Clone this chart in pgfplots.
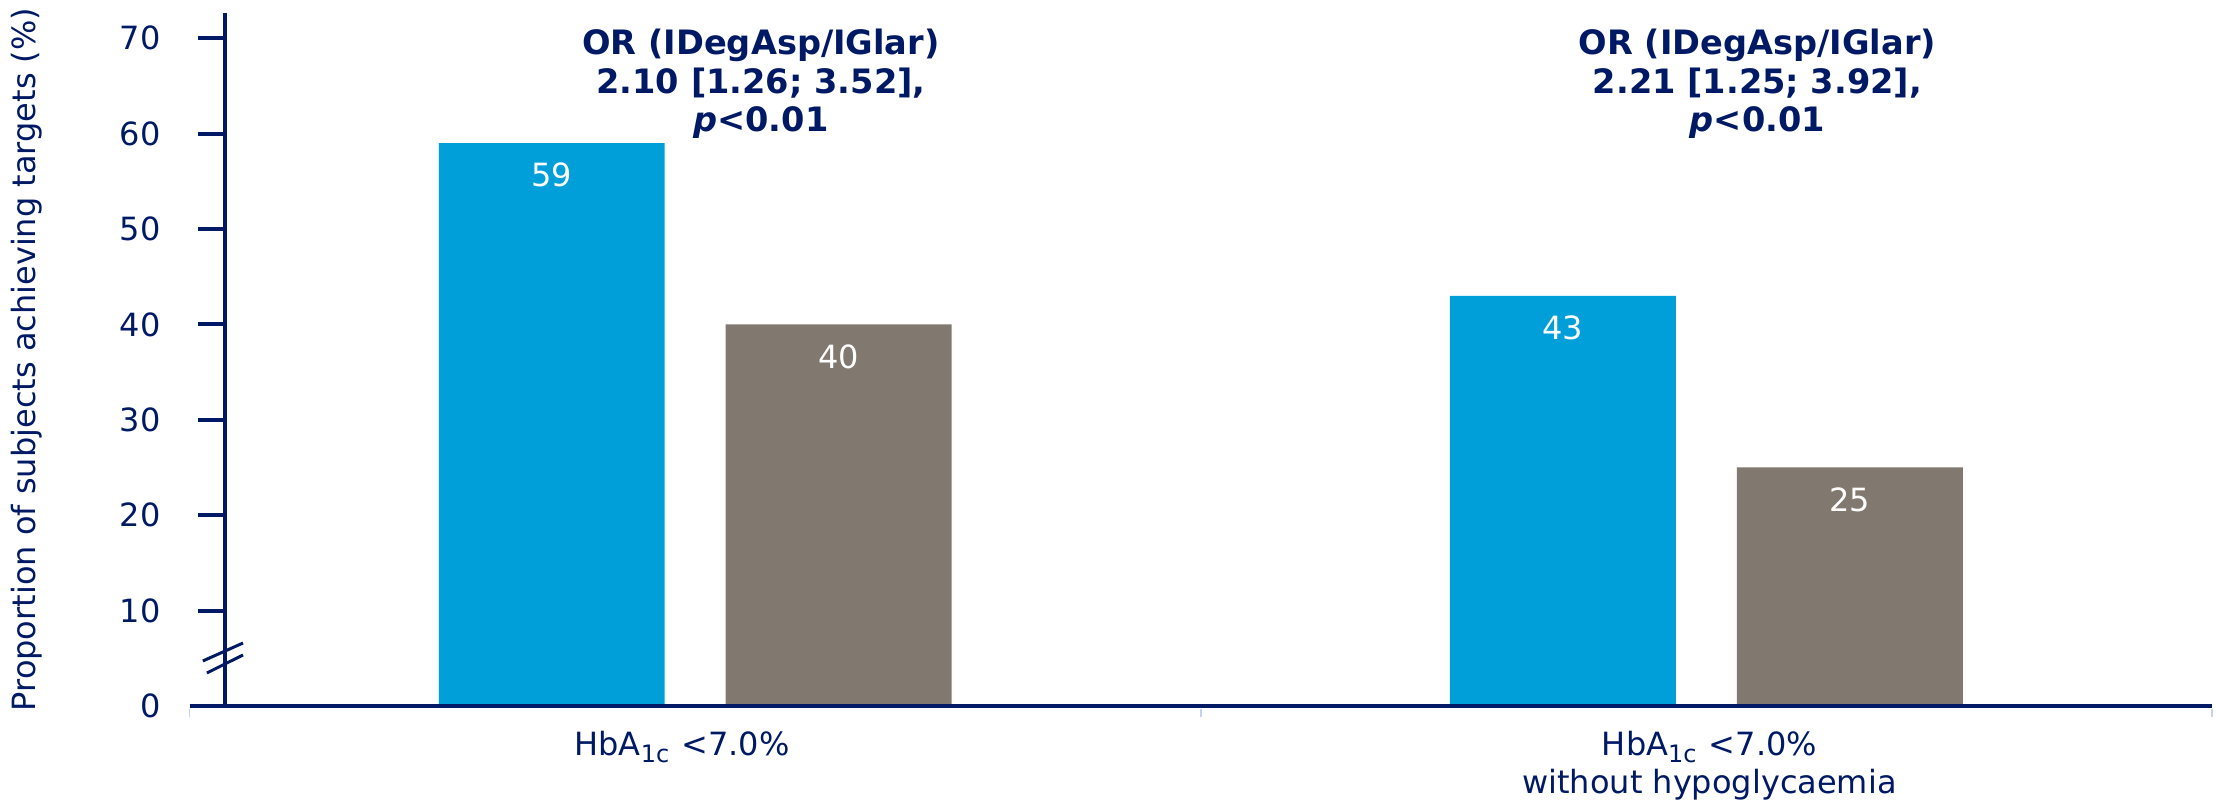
\documentclass[border=0pt]{standalone}
\usepackage{fontspec}
\setmainfont{DejaVu Sans}
\usepackage{pgfplots}
\pgfplotsset{compat=1.18}
\definecolor{navy}{HTML}{001965}
\definecolor{nnblue}{HTML}{009FDA}
\definecolor{nngrey}{HTML}{817870}
\definecolor{sepc}{HTML}{C5D3F2}
\newcommand\lbl{\fontsize{8}{9.5}\selectfont}
\begin{document}
\begin{tikzpicture}
\useasboundingbox (-56.25pt,-24pt) rectangle (497.75pt,176.5pt);
\begin{axis}[
  at={(0,0)}, anchor=south west,
  scale only axis, width=496.75pt, height=173.25pt,
  xmin=-0.465, xmax=1.5, ymin=0, ymax=72.64,
  axis lines*=left,
  axis line style={navy, line width=1pt},
  axis on top, clip=false,
  /pgf/number format/assume math mode=true,
  ytick={0,10,...,70},
  ytick style={navy, line width=1pt},
  tick align=outside,
  major tick length=6.75pt,
  xtick={-0.013,1.003},
  xticklabels={{HbA\textsubscript{1c} <7.0\%}, {HbA\textsubscript{1c} <7.0\%\\without hypoglycaemia}},
  xtick style={draw=none},
  ticklabel style={font=\lbl, text=navy},
  yticklabel style={xshift=-5.85pt},
  xticklabel style={align=center, anchor=north, yshift=3.9pt},
  ylabel={Proportion of subjects achieving targets (\%)},
  ylabel style={at={(axis description cs:-0.0996,0.5)}, anchor=center, font=\lbl, text=navy},
]
\addplot[ybar, draw=none, fill=nnblue, bar width=0.2234, bar shift=-0.1419]
  coordinates {(0,59) (1,43)};
\addplot[ybar, draw=none, fill=nngrey, bar width=0.2234, bar shift=0.1419]
  coordinates {(0,40) (1,25)};
% value labels (bar centres at group position -/+ bar shift)
\addplot[draw=none, forget plot, nodes near coords,
  every node near coord/.style={anchor=north, yshift=-1.5pt, text=white, font=\lbl}]
  coordinates {(-0.1419,59) (0.8581,43) (0.1419,40) (1.1419,25)};
% x axis extension and category separators
\draw[navy, line width=1pt] (axis cs:-0.5,0) -- (axis cs:-0.465,0);
\draw[sepc, line width=0.4pt] (axis cs:-0.5,-0.3) -- (axis cs:-0.5,-1.2);
\draw[sepc, line width=0.4pt] (axis cs:0.5,-0.3) -- (axis cs:0.5,-1.2);
\draw[sepc, line width=0.4pt] (axis cs:1.5,-0.3) -- (axis cs:1.5,-1.2);
% axis break
\fill[white] (axis cs:-0.475,4.09) rectangle (axis cs:-0.455,6.18);
\draw[navy, line width=0.75pt] (axis cs:-0.4869,4.72) -- (axis cs:-0.4472,6.60);
\draw[navy, line width=0.75pt] (axis cs:-0.4829,3.46) -- (axis cs:-0.4472,5.35);
% OR annotations
\node[align=center, font=\fontsize{8.4}{9.6}\selectfont\bfseries, text=navy, anchor=north, inner sep=0pt]
  at (axis cs:0.065,71.0) {OR (IDegAsp/IGlar)\\2.10 [1.26; 3.52],\\\textit{p}<0.01};
\node[align=center, font=\fontsize{8.4}{9.6}\selectfont\bfseries, text=navy, anchor=north, inner sep=0pt]
  at (axis cs:1.0504,71.0) {OR (IDegAsp/IGlar)\\2.21 [1.25; 3.92],\\\textit{p}<0.01};
\end{axis}
\end{tikzpicture}
\end{document}
